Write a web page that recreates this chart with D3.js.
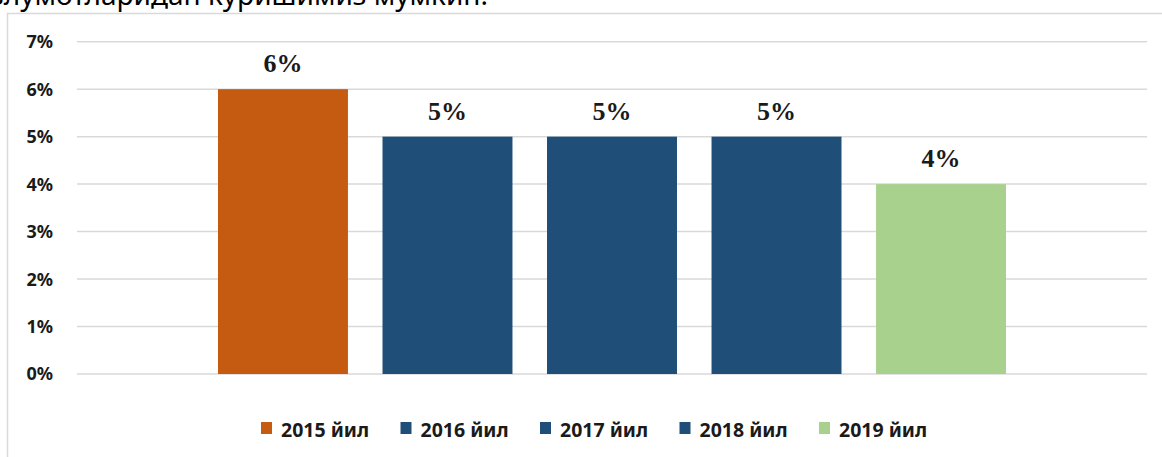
<!DOCTYPE html>
<html>
<head>
<meta charset="utf-8">
<script src="https://cdn.jsdelivr.net/npm/d3@7"></script>
<style>
  html, body { margin: 0; padding: 0; background: #fff; }
  svg { display: block; }
</style>
</head>
<body>
<svg id="chart_svg" width="1162" height="457"></svg>
<script>
// values
const series = ["2015 йил", "2016 йил", "2017 йил", "2018 йил", "2019 йил"]
const values = [0.06, 0.05, 0.05, 0.05, 0.04]
const colors = ["#C55A11", "#1F4E79", "#1F4E79", "#1F4E79", "#A9D18E"]
const y_ticks = [0, 0.01, 0.02, 0.03, 0.04, 0.05, 0.06, 0.07]
const caption = "маълумотларидан кўришимиз мумкин."

const margin = { top: 41.7, bottom: 83, left: 77, right: 15 }

let svg = d3.select("#chart_svg")
let width = +svg.attr("width")
let height = +svg.attr("height")

// bit of document text above the chart, cut off by the page top
svg.append("text")
  .attr("x", 488)
  .attr("y", 5)
  .attr("text-anchor", "end")
  .attr("font-family", "'Noto Sans', 'Open Sans', sans-serif")
  .attr("font-size", 28)
  .attr("fill", "#000")
  .text(caption)

// chart area frame (runs past right and bottom edge)
svg.append("path")
  .attr("d", `M7.5,${height + 5} V13.5 H${width + 5}`)
  .attr("fill", "none")
  .attr("stroke", "#d9d9d9")
  .attr("stroke-width", 1.5)

const xScale = d3.scaleBand()
  .domain(series)
  .range([margin.left, width - margin.right])
  .paddingInner(0.21)
  .paddingOuter(0.857)

const yScale = d3.scaleLinear()
  .domain([0, 0.07])
  .range([height - margin.bottom, margin.top])

const fmt = d3.format(".0%")

// gridlines
svg.append("g")
  .selectAll("line")
  .data(y_ticks)
  .join("line")
  .attr("x1", margin.left)
  .attr("x2", width - margin.right)
  .attr("y1", (d) => yScale(d))
  .attr("y2", (d) => yScale(d))
  .attr("stroke", "#d9d9d9")
  .attr("stroke-width", 1.5)

// y labels
svg.append("g")
  .selectAll("text")
  .data(y_ticks)
  .join("text")
  .attr("x", 53)
  .attr("y", (d) => yScale(d))
  .attr("dy", "0.36em")
  .attr("text-anchor", "end")
  .attr("font-family", "'Noto Sans', sans-serif")
  .attr("font-weight", "bold")
  .attr("font-size", 18)
  .attr("fill", "#1a1a1a")
  .text((d) => fmt(d))

// bars
svg.append("g")
  .selectAll("rect")
  .data(values)
  .join("rect")
  .attr("x", (d, i) => xScale(series[i]))
  .attr("y", (d) => yScale(d))
  .attr("width", xScale.bandwidth())
  .attr("height", (d) => yScale(0) - yScale(d))
  .attr("fill", (d, i) => colors[i])

// value labels
svg.append("g")
  .selectAll("text")
  .data(values)
  .join("text")
  .attr("x", (d, i) => xScale(series[i]) + xScale.bandwidth() / 2)
  .attr("y", (d) => yScale(d) - 17)
  .attr("text-anchor", "middle")
  .attr("font-family", "'Liberation Serif', 'Times New Roman', serif")
  .attr("font-weight", "bold")
  .attr("font-size", 26)
  .attr("fill", "#1a1a1a")
  .text((d) => fmt(d))

// legend
const legendX = d3.scalePoint().domain(series).range([261, 819])

let legend_items = svg.append("g")
  .selectAll(".legend_item")
  .data(series)
  .join("g")
  .attr("class", "legend_item")
  .attr("transform", (d) => `translate(${legendX(d)}, 422)`)

legend_items.append("rect")
  .attr("width", 11)
  .attr("height", 12)
  .attr("fill", (d, i) => colors[i])

legend_items.append("text")
  .attr("x", 20)
  .attr("y", 14.5)
  .attr("font-family", "'Noto Sans', sans-serif")
  .attr("font-weight", "bold")
  .attr("font-size", 19.5)
  .attr("fill", "#1a1a1a")
  .text((d) => d)
</script>
</body>
</html>
